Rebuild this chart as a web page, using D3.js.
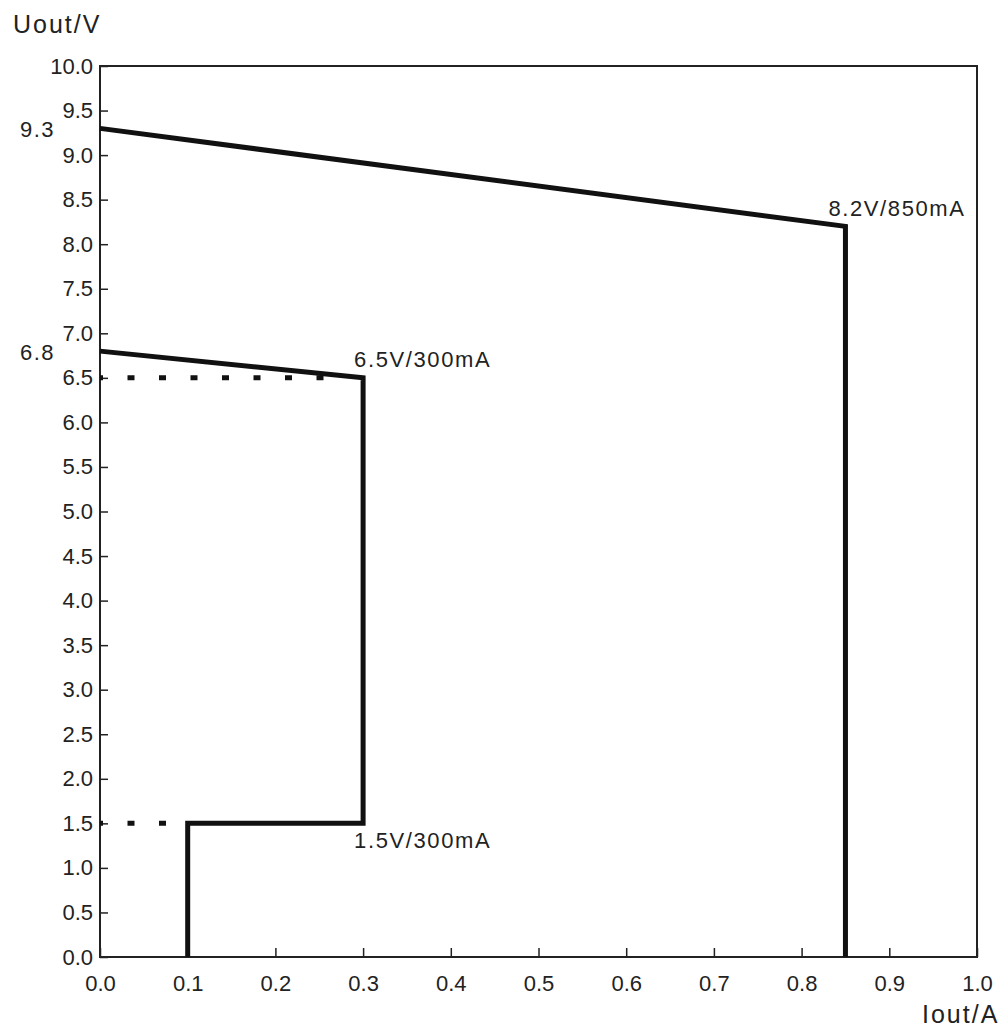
<!DOCTYPE html>
<html>
<head>
<meta charset="utf-8">
<script src="https://cdn.jsdelivr.net/npm/d3@7"></script>
<style>
  body { margin: 0; background: #fff; }
  svg text { font-family: "Liberation Sans", Arial, sans-serif; fill: #222; }
</style>
</head>
<body>
<svg></svg>
<script>
// Curve data (Iout in A, Uout in V)
const curveHigh = [[0, 9.3], [0.85, 8.2], [0.85, 0]];
const curveLow = [[0, 6.8], [0.3, 6.5], [0.3, 1.5], [0.1, 1.5], [0.1, 0]];
const dotted65 = [[0, 6.5], [0.262, 6.5]];
const dotted15 = [[0, 1.5], [0.078, 1.5]];

const xTicks = [0, 0.1, 0.2, 0.3, 0.4, 0.5, 0.6, 0.7, 0.8, 0.9, 1.0];
const yTicks = [0, 0.5, 1, 1.5, 2, 2.5, 3, 3.5, 4, 4.5, 5, 5.5, 6, 6.5, 7, 7.5, 8, 8.5, 9, 9.5, 10];
const extraY = [9.3, 6.8];

const annotations = [
    { x: 0.85, y: 8.2, text: "8.2V/850mA", dx: -17, dy: -10 },
    { x: 0.3, y: 6.5, text: "6.5V/300mA", dx: -9, dy: -11 },
    { x: 0.3, y: 1.5, text: "1.5V/300mA", dx: -9, dy: 25 }
];

const width = 1001;
const height = 1029;
const plotLeft = 100, plotRight = 977, plotTop = 66, plotBottom = 957;

const svg = d3.select("svg").attr("width", width).attr("height", height);

const xScale = d3.scaleLinear().domain([0, 1]).range([plotLeft, plotRight]);
const yScale = d3.scaleLinear().domain([0, 10]).range([plotBottom, plotTop]);

//Axes with inward ticks
const xAxis = d3.axisBottom(xScale)
    .tickValues(xTicks)
    .tickFormat(d3.format(".1f"))
    .tickSizeInner(-9)
    .tickSizeOuter(0)
    .tickPadding(18);

const yAxis = d3.axisLeft(yScale)
    .tickValues(yTicks)
    .tickFormat(d3.format(".1f"))
    .tickSizeInner(-8)
    .tickSizeOuter(0)
    .tickPadding(7);

const gx = svg.append("g")
    .attr("transform", "translate(0," + plotBottom + ")")
    .call(xAxis);
const gy = svg.append("g")
    .attr("transform", "translate(" + plotLeft + ",0)")
    .call(yAxis);

[gx, gy].forEach(g => {
    g.select(".domain").remove();
    g.selectAll(".tick line").attr("stroke", "#222").attr("stroke-width", 1.5);
    g.selectAll(".tick text").style("font-size", "22px").attr("fill", "#333");
});

//Extra labels 9.3 and 6.8
svg.selectAll(".extra")
    .data(extraY)
    .enter()
    .append("text")
    .attr("class", "extra")
    .attr("x", 55)
    .attr("y", d => yScale(d) + 2)
    .attr("dy", "0.32em")
    .attr("text-anchor", "end")
    .style("font-size", "22px")
    .style("letter-spacing", "1.5px")
    .attr("fill", "#333")
    .text(d => d.toFixed(1));

//Frame
svg.append("rect")
    .attr("x", plotLeft)
    .attr("y", plotTop)
    .attr("width", plotRight - plotLeft)
    .attr("height", plotBottom - plotTop)
    .attr("fill", "none")
    .attr("stroke", "#222")
    .attr("stroke-width", 2);

const line = d3.line()
    .x(d => xScale(d[0]))
    .y(d => yScale(d[1]));

//Dotted guide lines
[dotted65, dotted15].forEach(d => {
    svg.append("path")
        .attr("d", line(d))
        .attr("fill", "none")
        .attr("stroke", "#111")
        .attr("stroke-width", 5)
        .attr("stroke-dasharray", "7 24.5")
        .attr("stroke-dashoffset", 4);
});

//Solid curves
[curveHigh, curveLow].forEach(d => {
    svg.append("path")
        .attr("d", line(d))
        .attr("fill", "none")
        .attr("stroke", "#111")
        .attr("stroke-width", 5)
        .attr("stroke-linejoin", "miter");
});

//Point annotations
svg.selectAll(".anno")
    .data(annotations)
    .enter()
    .append("text")
    .attr("class", "anno")
    .attr("x", d => xScale(d.x) + d.dx)
    .attr("y", d => yScale(d.y) + d.dy)
    .style("font-size", "22px")
    .style("letter-spacing", "1.6px")
    .text(d => d.text);

//Axis titles
svg.append("text")
    .attr("x", 13)
    .attr("y", 33)
    .style("font-size", "25px")
    .style("letter-spacing", "2px")
    .text("Uout/V");

svg.append("text")
    .attr("x", 922)
    .attr("y", 1023)
    .style("font-size", "25px")
    .style("letter-spacing", "2px")
    .text("Iout/A");
</script>
</body>
</html>
